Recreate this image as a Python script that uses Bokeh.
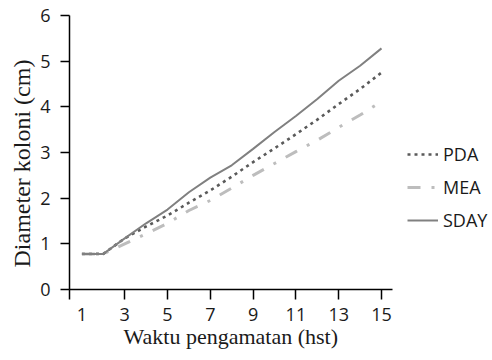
from bokeh.plotting import figure
from bokeh.models import Legend, LegendItem, FixedTicker, Range1d, Title
from bokeh.embed import file_html
from bokeh.resources import INLINE

# Data (days after inoculation, colony diameter in cm)
days = list(range(1, 16))
pda = [0.78, 0.78, 1.12, 1.38, 1.62, 1.90, 2.17, 2.47, 2.79, 3.09, 3.40, 3.72, 4.06, 4.39, 4.75]
mea = [0.78, 0.78, 1.00, 1.22, 1.45, 1.73, 1.95, 2.22, 2.50, 2.76, 3.02, 3.27, 3.55, 3.82, 4.12]
sday = [0.78, 0.78, 1.12, 1.45, 1.75, 2.13, 2.45, 2.72, 3.08, 3.45, 3.80, 4.17, 4.57, 4.90, 5.28]
x_tick_labels = [1, 3, 5, 7, 9, 11, 13, 15]
y_ticks = [0, 1, 2, 3, 4, 5, 6]

x_lo, x_axis_end, x_view_end = 0.42, 15.5, 20.0

p = figure(frame_width=419, frame_height=274, output_backend="svg", toolbar_location=None,
           x_range=Range1d(x_lo, x_view_end), y_range=Range1d(0, 6),
           min_border_left=69, min_border_right=4, min_border_top=15, min_border_bottom=0)
p.outline_line_color = None
p.xgrid.visible = False
p.ygrid.visible = False
p.background_fill_color = None
p.border_fill_color = "white"

r_pda = p.line(days, pda, line_color="#5a5a5a", line_width=2.6, line_dash="3 4")
r_mea = p.line(days, mea, line_color="#bdbdbd", line_width=3, line_dash="13 11 3 11")
r_sday = p.line(days, sday, line_color="#808080", line_width=2)

tick_font = "Open Sans"
# x axis
xa = p.xaxis[0]
xa.bounds = (x_lo, x_axis_end)
xa.ticker = FixedTicker(ticks=x_tick_labels, minor_ticks=[x_lo] + x_tick_labels[1:])
xa.major_tick_line_color = None
xa.major_tick_out = 10
xa.major_tick_in = 0
xa.minor_tick_line_color = "black"
xa.minor_tick_line_width = 1.5
xa.minor_tick_out = 10
xa.minor_tick_in = 0
xa.axis_line_color = "black"
xa.axis_line_width = 1.5
xa.major_label_text_font = tick_font
xa.major_label_text_font_size = "18px"
xa.major_label_text_color = "#1a1a1a"
xa.major_label_standoff = 8

x_title = Title(text="Waktu pengamatan (hst)", align="left", offset=54,
                standoff=0, vertical_align="top",
                text_font="Liberation Serif", text_font_size="22px",
                text_font_style="normal", text_color="#1a1a1a")
p.add_layout(x_title, "below")

ya = p.yaxis[0]
ya.ticker = FixedTicker(ticks=y_ticks, minor_ticks=[])
ya.major_tick_line_color = "black"
ya.major_tick_line_width = 1.5
ya.major_tick_out = 9
ya.major_tick_in = 0
ya.axis_line_color = "black"
ya.axis_line_width = 1.5
ya.major_label_text_font = tick_font
ya.major_label_text_font_size = "18px"
ya.major_label_text_color = "#1a1a1a"
ya.major_label_standoff = 10

y_title = Title(text="Diameter koloni (cm)", align="left", offset=22,
                standoff=6, vertical_align="bottom",
                text_font="Liberation Serif", text_font_size="24px",
                text_font_style="normal", text_color="#1a1a1a")
p.add_layout(y_title, "left")

legend = Legend(items=[LegendItem(label="PDA", renderers=[r_pda]),
                       LegendItem(label="MEA", renderers=[r_mea]),
                       LegendItem(label="SDAY", renderers=[r_sday])],
                location=(338, 54), orientation="vertical",
                border_line_color=None, background_fill_alpha=0,
                padding=0, margin=0, spacing=3,
                glyph_width=31, glyph_height=30, label_height=30, label_standoff=5,
                label_text_font=tick_font, label_text_font_size="18px",
                label_text_color="#1a1a1a")
p.add_layout(legend)

open("out.html", "w").write(file_html(p, INLINE))
